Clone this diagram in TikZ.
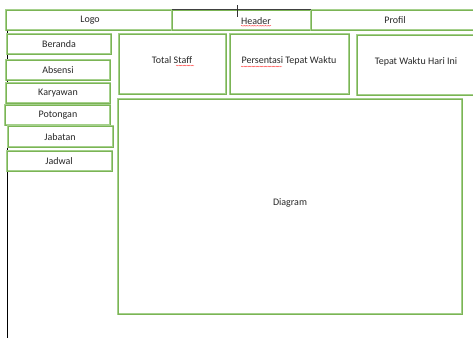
\documentclass[tikz,border=0pt]{standalone}
\usepackage{fontspec}
\setmainfont{Carlito}
\usetikzlibrary{decorations.pathmorphing}
\definecolor{gline}{RGB}{165,208,140}
\definecolor{gdark}{RGB}{112,173,71}
\definecolor{txt}{RGB}{40,40,40}
\tikzset{
  box/.style={draw=gline, line width=1.8pt, fill=white},
  boxin/.style={draw=gdark!80!gline, line width=0.5pt},
  lbl/.style={text=txt, font=\fontsize{10}{12}\selectfont, inner sep=0pt},
  squig/.style={draw=red!70, line width=0.3pt, decorate,
    decoration={snake, amplitude=0.4pt, segment length=1.6pt}}
}
\begin{document}
\begin{tikzpicture}[x=1pt,y=-1pt]
\useasboundingbox (0,0) rectangle (473,338);
\fill[white] (0,0) rectangle (473,338);
% left black line
\draw[black, line width=1pt] (7,30) -- (7,338);
% boxes
\foreach \n/\a/\b/\c/\d in {logo/6/10/172/30, header/172/10/311/30, profil/311/10/480/30,
  beranda/7/34/111/54, absensi/6/60/110/80, karyawan/6/83/110/103, potongan/5/105/110/125,
  jabatan/8/126/113/147, jadwal/7/151/112/171,
  staff/119/34/226/94, persen/230/34/349/94, hari/357/35/480/95, diagram/118/99/462/314}{
  \draw[box] (\a,\b) rectangle (\c,\d);
  \draw[boxin] (\a,\b) rectangle (\c,\d);
  \coordinate (\n) at ({(\a+\c)/2},{(\b+\d)/2});
}
\draw[black!75, line width=1.2pt] (172,9.6) -- (311,9.6);
\draw[black!80, line width=0.6pt] (237,5) -- (237,17);
% labels
\node[lbl] (tlogo) at (90,20) {Logo};
\node[lbl] (theader) at (256,21) {Header};
\node[lbl] (tprofil) at (395,20) {Profil};
\node[lbl] (tberanda) at (59,44) {Beranda};
\node[lbl] (tabsensi) at (58,70) {Absensi};
\node[lbl] (tkaryawan) at (58,93) {Karyawan};
\node[lbl] (tpotongan) at (58,115) {Potongan};
\node[lbl] (tjabatan) at (60,137) {Jabatan};
\node[lbl] (tjadwal) at (59,161) {Jadwal};
\node[lbl] (tstaff) at (172,60) {Total Staff};
\node[lbl] (tpersen) at (289,61) {Persentasi Tepat Waktu};
\node[lbl] (thari) at (416,62) {Tepat Waktu Hari Ini};
\node[lbl] (tdiagram) at (290,203) {Diagram};
% spell-check squiggles
\draw[squig] (241,25.8) -- (271,25.8);
\draw[squig] (176,65.5) -- (194,65.5);
\draw[squig] (241,66.5) -- (282,66.5);
\end{tikzpicture}
\end{document}
